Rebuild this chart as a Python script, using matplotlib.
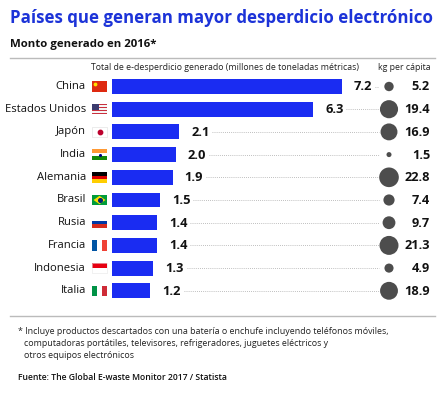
import matplotlib
matplotlib.use("Agg")
import matplotlib.pyplot as plt
from matplotlib.patches import Rectangle, Polygon
from matplotlib.lines import Line2D

countries = ["China", "Estados Unidos", "Japón", "India", "Alemania", "Brasil",
             "Rusia", "Francia", "Indonesia", "Italia"]
total_mt = [7.2, 6.3, 2.1, 2.0, 1.9, 1.5, 1.4, 1.4, 1.3, 1.2]
kg_per_capita = [5.2, 19.4, 16.9, 1.5, 22.8, 7.4, 9.7, 21.3, 4.9, 18.9]

FONT = "Open Sans"
BAR = "#1a2cf2"
TITLE = "#1c33d8"
DOT = "#4d4d4d"

W, H = 447, 400
fig = plt.figure(figsize=(W / 100, H / 100), dpi=100)
fig.patch.set_facecolor("white")

def fx(px):
    return px / W

def fy(py):
    return 1 - py / H

# axes geometry in pixels
ax_l, ax_r = 112, 447
ax_t, ax_b = 75, 304
scale = 31.9  # px per unit
ax = fig.add_axes([fx(ax_l), fy(ax_b), fx(ax_r - ax_l), (ax_b - ax_t) / H])
ax.set_xlim(0, (ax_r - ax_l) / scale)
row0, step = 86.5, 22.7
ax.set_ylim((ax_b - row0) / step, (ax_t - row0) / step)
ax.axis("off")

n = len(countries)
ys = list(range(n))
ax.barh(ys, total_mt, height=0.66, color=BAR, edgecolor="none")

circle_x = (389 - ax_l) / scale
val_x = (430 - ax_l) / scale
label_x = -26 / scale
max_s = 200.0
for i, (c, v, k) in enumerate(zip(countries, total_mt, kg_per_capita)):
    ax.text(label_x, i, c, ha="right", va="center", fontsize=8.1, family=FONT,
            color="#111111", clip_on=False)
    ax.text(v + 0.38, i + 0.02, f"{v:.1f}", ha="left", va="center", fontsize=9.3,
            family=FONT, fontweight="bold", color="#111111")
    ax.plot([v + 1.05, circle_x - 0.3], [i, i], linestyle=(0, (1, 1.5)),
            color="#aaaaaa", lw=0.6)
    ax.scatter([circle_x], [i], s=max_s * k / max(kg_per_capita), color=DOT,
               zorder=3, clip_on=False, edgecolors="none")
    ax.text(val_x, i + 0.02, f"{k:.1f}", ha="right", va="center", fontsize=9.2,
            family=FONT, fontweight="bold", color="#111111", clip_on=False)

# flags
fl, fr = -20 / scale, -5 / scale
fw = fr - fl
fh = 0.46

def rect(x0, y0, w, h, col, **kw):
    ax.add_patch(Rectangle((x0, y0), w, h, facecolor=col, edgecolor="none",
                           clip_on=False, **kw))

def hstripes(i, cols):
    top = i - fh / 2
    hh = fh / len(cols)
    for j, c in enumerate(cols):
        rect(fl, top + j * hh, fw, hh, c)

def vstripes(i, cols):
    top = i - fh / 2
    ww = fw / len(cols)
    for j, c in enumerate(cols):
        rect(fl + j * ww, top, ww, fh, c)

# China
rect(fl, 0 - fh / 2, fw, fh, "#de2910")
ax.scatter([fl + fw * 0.2], [0 - fh * 0.22], s=3, color="#ffde00", clip_on=False, zorder=4)
# USA
hstripes(1, ["#c9303e", "#f5f5f5"] * 3 + ["#c9303e"])
rect(fl, 1 - fh / 2, fw * 0.45, fh * 0.55, "#3c3b6e")
# Japan
rect(fl, 2 - fh / 2, fw, fh, "white")
ax.add_patch(Rectangle((fl, 2 - fh / 2), fw, fh, facecolor="none", edgecolor="#dddddd",
                       lw=0.4, clip_on=False))
ax.scatter([fl + fw / 2], [2], s=10, color="#bc002d", clip_on=False, zorder=4)
# India
hstripes(3, ["#ff9933", "#ffffff", "#138808"])
ax.scatter([fl + fw / 2], [3], s=1.5, color="#000080", clip_on=False, zorder=4)
# Germany
hstripes(4, ["#000000", "#dd0000", "#ffce00"])
# Brazil
rect(fl, 5 - fh / 2, fw, fh, "#009c3b")
ax.add_patch(Polygon([(fl + fw * 0.1, 5), (fl + fw / 2, 5 - fh * 0.4),
                      (fl + fw * 0.9, 5), (fl + fw / 2, 5 + fh * 0.4)],
                     closed=True, facecolor="#ffdf00", edgecolor="none", clip_on=False))
ax.scatter([fl + fw / 2], [5], s=7, color="#002776", clip_on=False, zorder=4)
# Russia
hstripes(6, ["#ffffff", "#0039a6", "#d52b1e"])
# France
vstripes(7, ["#0055a4", "#ffffff", "#ef4135"])
# Indonesia
hstripes(8, ["#e70011", "#ffffff"])
ax.add_patch(Rectangle((fl, 8 - fh / 2), fw, fh, facecolor="none", edgecolor="#e6e6e6",
                       lw=0.4, clip_on=False))
# Italy
vstripes(9, ["#009246", "#ffffff", "#ce2b37"])

# titles
fig.text(fx(10), fy(18), "Países que generan mayor desperdicio electrónico",
         fontsize=12.2, fontweight="bold", color=TITLE, family=FONT, va="center", ha="left")
fig.text(fx(10), fy(44), "Monto generado en 2016*", fontsize=8.2, fontweight="bold",
         color="#111111", family=FONT, va="center", ha="left")
fig.add_artist(Line2D([fx(10), fx(435)], [fy(58), fy(58)], color="#bbbbbb", lw=1))
fig.text(fx(359), fy(67), "Total de e-desperdicio generado (millones de toneladas métricas)",
         fontsize=6.3, color="#222222", family=FONT, va="center", ha="right")
fig.text(fx(431), fy(67), "kg per cápita", fontsize=6.3, color="#222222", family=FONT,
         va="center", ha="right")
fig.add_artist(Line2D([fx(10), fx(435)], [fy(316), fy(316)], color="#bbbbbb", lw=1))

fig.text(fx(18), fy(331), "* Incluye productos descartados con una batería o enchufe incluyendo teléfonos móviles,",
         fontsize=6.4, color="#222222", family=FONT, va="center", ha="left")
fig.text(fx(24), fy(343), "computadoras portátiles, televisores, refrigeradores, juguetes eléctricos y",
         fontsize=6.4, color="#222222", family=FONT, va="center", ha="left")
fig.text(fx(24), fy(355), "otros equipos electrónicos",
         fontsize=6.4, color="#222222", family=FONT, va="center", ha="left")
fig.text(fx(18), fy(378), "Fuente: The Global E-waste Monitor 2017 / Statista",
         fontsize=6.2, color="#111111", family=FONT, fontweight="semibold", va="center", ha="left")

fig.savefig("out.png", dpi=100, facecolor="white")
